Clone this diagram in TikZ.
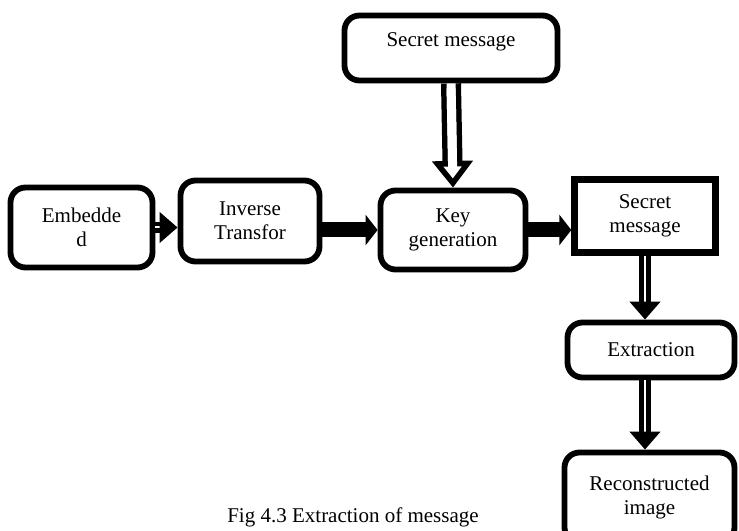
\documentclass[tikz,border=0pt]{standalone}
\usepackage{fontspec}
\setmainfont{Liberation Serif}
\usetikzlibrary{arrows.meta}
\tikzset{box/.style={draw,line width=3.5pt,rounded corners=9pt,align=center,inner sep=0pt,font=\fontsize{12.6}{14.4}\selectfont}}
\tikzset{sbox/.style={box,rounded corners=0pt,line width=3.8pt}}
\tikzset{solidarrow/.style={line width=9pt,-{Triangle[length=7.2pt,width=18pt]}}}
\tikzset{thinarrow/.style={line width=2.9pt,double=white,double distance=1.2pt,-{Triangle[length=10.8pt,width=18pt]}}}
\tikzset{hollowarrow/.style={line width=3.3pt,double=white,double distance=5.4pt,-{Triangle[open,fill=white,line width=3.3pt,length=16pt,width=24pt]}}}
\tikzset{hollowcore/.style={white,line width=5.4pt,shorten <=3pt,shorten >=9pt}}
\begin{document}
\begin{tikzpicture}[x=0.6pt,y=-0.6pt]
    \useasboundingbox (0,0) rectangle (739,531);
    \node[box,minimum width=127.8pt,minimum height=39pt] (msg) at (451,48) {Secret message\\[-4pt]};
    \node[box,minimum width=85.2pt,minimum height=48pt] (emb) at (81.5,227.5) {Embedde\\d};
    \node[box,minimum width=83.4pt,minimum height=48.6pt] (inv) at (250,221) {Inverse\\Transfor};
    \node[box,minimum width=87pt,minimum height=47.4pt] (key) at (453,230) {Key\\generation};
    \node[sbox,minimum width=84.6pt,minimum height=43.8pt] (sec) at (645,216) {Secret\\message};
    \node[box,minimum width=100.2pt,minimum height=33pt] (ext) at (651,350) {Extraction};
    \node[box,minimum width=102pt,minimum height=54pt] (rec) at (649.5,497.5) {Reconstructed\\image};
    \node[font=\fontsize{12.6}{14.4}\selectfont] (cap) at (353,517) {Fig 4.3 Extraction of message};
    \draw[hollowarrow] (msg.south) -- (key.north);
    \draw[hollowcore] (msg.south) -- (key.north);
    \draw[thinarrow] (emb.east) -- (emb.east -| inv.west);
    \draw[solidarrow] (inv.east |- key.west) -- (key.west);
    \draw[solidarrow] (key.east) -- (key.east -| sec.west);
    \draw[thinarrow] (sec.south) -- (sec.south |- ext.north);
    \draw[thinarrow] (ext.south -| sec.south) -- (rec.north -| sec.south);
\end{tikzpicture}
\end{document}
